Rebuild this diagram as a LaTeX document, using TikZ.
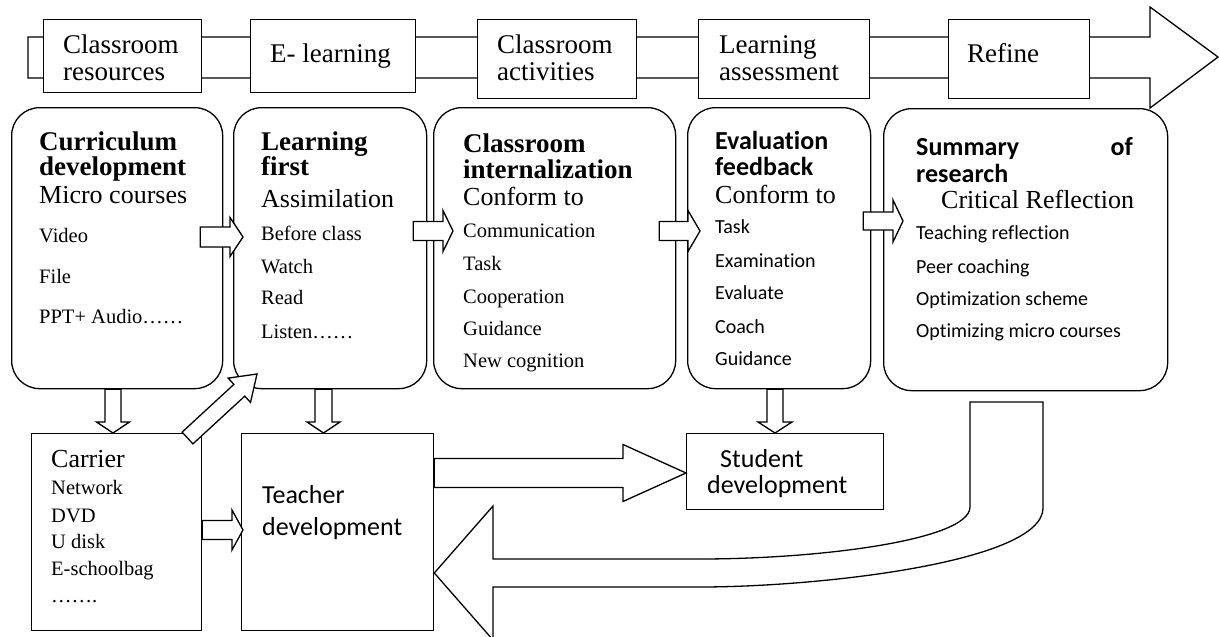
\documentclass[tikz,border=0pt]{standalone}
\usepackage{fontspec}
\setmainfont{Liberation Serif}
\setsansfont{Carlito}[Ligatures=NoCommon, Contextuals=NoAlternate]
\usetikzlibrary{calc}

\tikzset{
  lbl/.style={anchor=base west, inner sep=0pt, font=\fontsize{27}{27}\selectfont},
  hd/.style={anchor=base west, inner sep=0pt, font=\fontsize{27}{27}\selectfont\bfseries},
  sub/.style={anchor=base west, inner sep=0pt, font=\fontsize{26}{26}\selectfont},
  item/.style={anchor=base west, inner sep=0pt, font=\fontsize{20.5}{20.5}\selectfont},
  shd/.style={anchor=base west, inner sep=0pt, font=\fontsize{26}{26}\selectfont\sffamily\bfseries},
  sitem/.style={anchor=base west, inner sep=0pt, font=\fontsize{20}{20}\selectfont\sffamily},
  stxt/.style={anchor=base west, inner sep=0pt, font=\fontsize{26}{26}\selectfont\sffamily},
  blk/.style={line width=1.3pt, fill=white, line join=miter},
}

% block arrow: tail, tip, shaft half width, head half width, head length
\newcommand\barrow[5]{%
  \coordinate (ba) at ($(#2)!#5pt!(#1)$);
  \draw[blk] ($(#1)!#3pt!90:(#2)$) -- ($(ba)!#3pt!90:(#2)$) -- ($(ba)!#4pt!90:(#2)$) -- (#2)
    -- ($(ba)!#4pt!-90:(#2)$) -- ($(ba)!#3pt!-90:(#2)$) -- ($(#1)!#3pt!-90:(#2)$) -- cycle;}

\begin{document}
\begin{tikzpicture}[x=1pt, y=-1pt]
				\useasboundingbox (0,0) rectangle (1219,637);
				% banner
				\draw[blk] (28,37) -- (1150,37) -- (1150,7) -- (1218,57) -- (1150,108) -- (1150,78) -- (28,78) -- cycle;
				\begin{scope}[every node/.style={draw, line width=1.3pt, fill=white, anchor=north west, inner sep=0pt}]
					\node[minimum width=158, minimum height=73] (res) at (43,19) {};
					\node[minimum width=165, minimum height=73] (elr) at (250,19) {};
					\node[minimum width=159, minimum height=79] (act) at (477,19) {};
					\node[minimum width=171, minimum height=79] (ass) at (698,19) {};
					\node[minimum width=141, minimum height=79] (ref) at (948,19) {};
				\end{scope}
				\begin{scope}[every node/.style={draw, line width=1.3pt, anchor=north west, inner sep=0pt, rounded corners=28pt}]
					\node[minimum width=211, minimum height=281] (cur) at (11,107) {};
					\node[minimum width=193, minimum height=281] (lrn) at (233,107) {};
					\node[minimum width=242, minimum height=281] (int) at (433,107) {};
					\node[minimum width=183, minimum height=281] (eva) at (687,107) {};
					\node[minimum width=284, minimum height=282] (sum) at (883,108) {};
				\end{scope}
				\begin{scope}[every node/.style={draw, line width=1.3pt, anchor=north west, inner sep=0pt}]
					\node[minimum width=170, minimum height=197] (car) at (31,433) {};
					\node[minimum width=192, minimum height=197] (tea) at (241,433) {};
					\node[minimum width=197, minimum height=76] (stu) at (686,433) {};
				\end{scope}
				% arrow ends
				\coordinate (cl1) at ([xshift=-23pt]cur.east |- 0,237);
				\coordinate (cl2) at ([xshift=10pt]lrn.west |- 0,237);
				\coordinate (li1) at ([xshift=-14pt]lrn.east |- 0,231);
				\coordinate (li2) at ([xshift=20pt]int.west |- 0,231);
				\coordinate (ie1) at ([xshift=-17pt]int.east |- 0,231);
				\coordinate (ie2) at ([xshift=13pt]eva.west |- 0,231);
				\coordinate (es1) at ([xshift=-8pt]eva.east |- 0,221);
				\coordinate (es2) at ([xshift=20pt]sum.west |- 0,221);
				\coordinate (cc1) at (113,0 |- cur.south);
				\coordinate (cc2) at (113,0 |- car.north);
				\coordinate (lt1) at (323.5,0 |- lrn.south);
				\coordinate (lt2) at (323.5,0 |- tea.north);
				\coordinate (es3) at (775,0 |- eva.south);
				\coordinate (es4) at (775,0 |- stu.north);
				\coordinate (ct1) at (car.east |- 0,530);
				\coordinate (ct2) at ([xshift=2pt]tea.west |- 0,530);
				\coordinate (cd1) at (187.5,438);
				\coordinate (cd2) at (257,374);
				\coordinate (ts1) at (tea.east |- 0,473);
				\coordinate (ts2) at (stu.west |- 0,473);
				\barrow{cl1}{cl2}{10}{19.5}{13}
				\barrow{li1}{li2}{9.5}{20.5}{10}
				\barrow{ie1}{ie2}{9.5}{20.5}{12}
				\barrow{es1}{es2}{9}{21}{10}
				\barrow{cc1}{cc2}{8}{16.5}{11}
				\barrow{lt1}{lt2}{8.5}{16.5}{11}
				\barrow{es3}{es4}{8}{17}{11}
				\barrow{ct1}{ct2}{9.5}{20}{11}
				\barrow{cd1}{cd2}{8}{16.5}{24}
				\barrow{ts1}{ts2}{14.5}{28.5}{63}
				% return arrow
				\draw[blk] (970,402) -- (1043,402) -- (1043,508) .. controls (1043,562) and (820,587) .. (700,587)
					-- (493,587) -- (493,640) -- (tea.east |- 0,573) -- (493,506) -- (493,559) -- (700,559)
					.. controls (820,559) and (970,540) .. (970,507) -- cycle;
				% banner labels
				\node[lbl] (res-1) at (63,53) {Classroom};
				\node[lbl] (res-2) at (63,80) {resources};
				\node[lbl] (elr-1) at (270,62) {E- learning};
				\node[lbl] (act-1) at (497,53) {Classroom};
				\node[lbl] (act-2) at (497,80) {activities};
				\node[lbl] (ass-1) at (719,53) {Learning};
				\node[lbl] (ass-2) at (719,80) {assessment};
				\node[lbl] (ref-1) at (967,62) {Refine};
				% curriculum development
				\node[hd] (cur-h1) at (39,150) {Curriculum};
				\node[hd] (cur-h2) at (39,175) {development};
				\node[sub] (cur-s) at (39,203) {Micro courses};
				\foreach \y/\t [count=\i] in {242/Video, 283/File, 323/{PPT+ Audio……}}
					\node[item] (cur-\i) at (39,\y) {\t};
				% learning first
				\node[hd] (lrn-h1) at (261,150) {Learning};
				\node[hd] (lrn-h2) at (261,175) {first};
				\node[sub] (lrn-s) at (261,207) {Assimilation};
				\foreach \y/\t [count=\i] in {240/Before class, 273/Watch, 304/Read, 338/{Listen……}}
					\node[item] (lrn-\i) at (261,\y) {\t};
				% classroom internalization
				\node[hd] (int-h1) at (463,152) {Classroom};
				\node[hd] (int-h2) at (463,178) {internalization};
				\node[sub] (int-s) at (463,205) {Conform to};
				\foreach \y/\t [count=\i] in {237/Communication, 270/Task, 303/Cooperation, 335/Guidance, 367/New cognition}
					\node[item] (int-\i) at (463,\y) {\t};
				% evaluation feedback
				\node[shd] (eva-h1) at (715,149) {Evaluation};
				\node[shd] (eva-h2) at (715,175) {feedback};
				\node[sub] (eva-s) at (715,203) {Conform to};
				\foreach \y/\t [count=\i] in {233/Task, 267/Examination, 299/Evaluate, 333/Coach, 365/Guidance}
					\node[sitem] (eva-\i) at (715,\y) {\t};
				% summary of research
				\node[shd] (sum-h1) at (916,155) {Summary};
				\node[shd, anchor=base east] (sum-h2) at (1133,155) {of};
				\node[shd] (sum-h3) at (916,182) {research};
				\node[sub] (sum-s) at (941,208) {Critical Reflection};
				\foreach \y/\t [count=\i] in {239/Teaching reflection, 273/Peer coaching, 305/Optimization scheme, 337/Optimizing micro courses}
					\node[sitem] (sum-\i) at (916,\y) {\t};
				% carrier
				\node[sub] (car-s) at (51,467) {Carrier};
				\foreach \y/\t [count=\i] in {494/Network, 522/DVD, 548/U disk, 575/E-schoolbag, 602/{…….}}
					\node[item] (car-\i) at (51,\y) {\t};
				% teacher and student
				\node[stxt] (tea-1) at (262,503) {Teacher};
				\node[stxt] (tea-2) at (262,535) {development};
				\node[stxt] (stu-1) at (720,467) {Student};
				\node[stxt] (stu-2) at (707,493) {development};
\end{tikzpicture}
\end{document}
